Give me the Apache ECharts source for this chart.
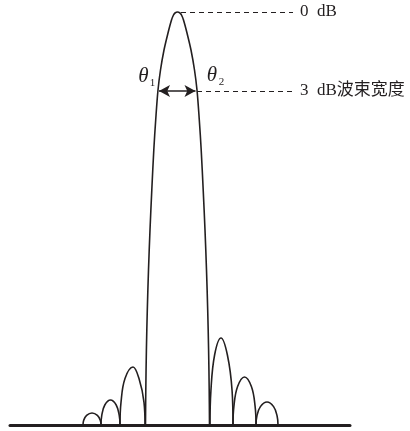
<!DOCTYPE html>
<html>
<head>
<meta charset="utf-8">
<title>波束宽度</title>
<script src="https://cdn.jsdelivr.net/npm/echarts@6/dist/echarts.min.js"></script>
<style>
  html, body { margin: 0; padding: 0; background: #fff; }
  #chart { width: 410px; height: 431px; }
</style>
</head>
<body>
<div id="chart"></div>
<script>
// 角度(横轴) / 电平(纵轴)，主瓣中心约为 0
const mainLobe = [
  [-32.5, 0], [-32.2, 35], [-31.6, 75], [-30.7, 115], [-29.5, 155], [-28, 195],
  [-26.2, 235], [-24.2, 275], [-22.3, 305], [-20, 335], [-17.5, 355], [-14, 375],
  [-10, 392], [-6.5, 405], [-4.5, 410], [-3, 412], [-0.5, 413], [2, 412], [3.5, 410],
  [5.5, 405], [9, 392], [13, 375], [16.5, 355], [19, 335], [21.3, 305], [23.2, 275],
  [25.2, 235], [27, 195], [28.5, 155], [29.7, 115], [30.6, 75], [31.2, 35], [31.5, 0]
];
// 旁瓣（左三个，右三个）
const sideLobes = [
  [[-95, 0], [-94.3, 4.7], [-91.4, 9.6], [-86, 12], [-80.6, 9.6], [-77.7, 4.7], [-77, 0]],
  [[-77, 0], [-76.2, 9.8], [-73.2, 20], [-67.5, 25], [-61.8, 20], [-58.8, 9.8], [-58, 0]],
  [[-58, 0], [-57, 22.6], [-53, 46.4], [-45, 58], [-39, 46.4], [-34, 22.6], [-33, 0]],
  [[32, 0], [32.9, 34], [36.6, 70], [43, 87], [49.4, 70], [54.1, 34], [55, 0]],
  [[55, 0], [55.9, 18.7], [59.6, 38.4], [66.5, 48], [73.4, 38.4], [77.1, 18.7], [78, 0]],
  [[78, 0], [78.9, 9], [82.4, 18.4], [89, 23], [95.6, 18.4], [99.1, 9], [100, 0]]
];
const peakLevel = 413;
const halfPowerLevel = 334;
const beamEdges = [-20, 19];
const labelEnd = 115;
const labels = ['0  dB', '3  dB波束宽度'];

const ink = '#231f20';
const serif = '"Liberation Serif", "DejaVu Serif", "Noto Sans CJK SC", serif';

const chart = echarts.init(document.getElementById('chart'));

const lineText = {
  show: true,
  position: 'end',
  distance: 7,
  color: ink,
  fontFamily: serif,
  fontSize: 17
};

const series = [
  {
    type: 'line',
    data: mainLobe,
    smooth: 0.35,
    symbol: 'none',
    lineStyle: { color: ink, width: 1.6 },
    z: 3,
    markLine: {
      silent: true,
      symbol: 'none',
      animation: false,
      lineStyle: { color: ink, width: 1, type: [5, 4] },
      data: [
        [
          { coord: [3, peakLevel], label: Object.assign({ formatter: labels[0] }, lineText) },
          { coord: [labelEnd, peakLevel] }
        ],
        [
          { coord: [beamEdges[1], halfPowerLevel], label: Object.assign({ formatter: labels[1] }, lineText) },
          { coord: [labelEnd, halfPowerLevel] }
        ],
        // 双向箭头
        [
          {
            coord: [beamEdges[0] + 1, halfPowerLevel],
            symbol: 'arrow',
            symbolSize: [9, 11],
            lineStyle: { type: 'solid', width: 1.6 },
            label: { show: false }
          },
          { coord: [beamEdges[1] - 1.5, halfPowerLevel], symbol: 'arrow', symbolSize: [9, 11] }
        ]
      ]
    },
    markPoint: {
      silent: true,
      animation: false,
      symbolSize: 0,
      label: { show: true, position: 'inside', color: ink, fontFamily: serif },
      data: [
        { coord: [-34.5, 349], label: { formatter: 'θ', fontSize: 21, fontStyle: 'italic' } },
        { coord: [-25.5, 342], label: { formatter: '1', fontSize: 11 } },
        { coord: [34, 350], label: { formatter: 'θ', fontSize: 21, fontStyle: 'italic' } },
        { coord: [43.5, 343], label: { formatter: '2', fontSize: 11 } }
      ]
    }
  }
];

sideLobes.forEach(function (lobe) {
  series.push({
    type: 'line',
    data: lobe,
    smooth: 0.4,
    symbol: 'none',
    lineStyle: { color: ink, width: 1.6 }
  });
});

chart.setOption({
  animation: false,
  grid: { left: 10, right: 60, top: 0, bottom: 6 },
  xAxis: {
    type: 'value',
    min: -168,
    max: 172,
    axisLine: { show: true, onZero: false, lineStyle: { color: ink, width: 3 } },
    axisTick: { show: false },
    axisLabel: { show: false },
    splitLine: { show: false }
  },
  yAxis: {
    type: 'value',
    min: 0,
    max: 425,
    show: false
  },
  series: series
});
</script>
</body>
</html>
